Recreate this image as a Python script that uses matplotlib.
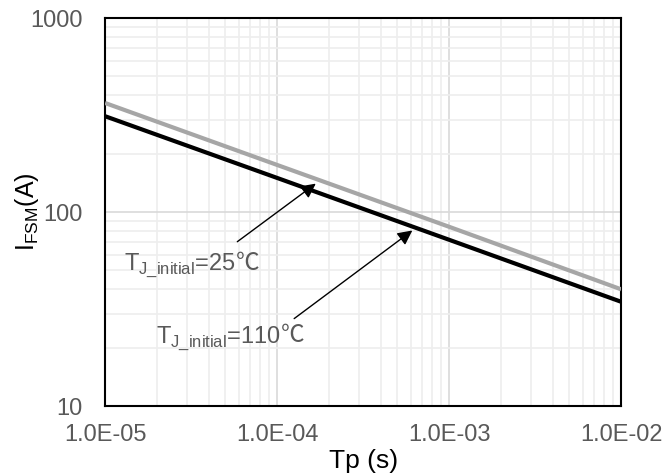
import matplotlib
matplotlib.use("Agg")
import matplotlib.pyplot as plt
from matplotlib.ticker import LogLocator, FixedLocator, NullFormatter

plt.rcParams['font.family'] = ['Liberation Sans', 'DejaVu Sans']
plt.rcParams['mathtext.fontset'] = 'custom'
plt.rcParams['mathtext.rm'] = 'Liberation Sans'

# data
tp = [1e-5, 1e-4, 1e-3, 1e-2]
ifsm_25 = [365, 175, 84, 40]
ifsm_110 = [312, 150, 72, 34.5]
xticks = [1e-5, 1e-4, 1e-3, 1e-2]
xticklabels = ['1.0E-05', '1.0E-04', '1.0E-03', '1.0E-02']
yticks = [10, 100, 1000]
yticklabels = ['10', '100', '1000']

fig = plt.figure(figsize=(6.65, 4.75), dpi=100)
ax = fig.add_axes([0.158, 0.145, 0.776, 0.817])

ax.plot(tp, ifsm_25, color='#a6a6a6', lw=3, solid_capstyle='butt', zorder=3)
ax.plot(tp, ifsm_110, color='black', lw=3, solid_capstyle='butt', zorder=3)

ax.set_xscale('log')
ax.set_yscale('log')
ax.set_xlim(1e-5, 1e-2)
ax.set_ylim(10, 1000)

ax.xaxis.set_major_locator(FixedLocator(xticks))
ax.set_xticklabels(xticklabels)
ax.yaxis.set_major_locator(FixedLocator(yticks))
ax.set_yticklabels(yticklabels)
ax.xaxis.set_minor_locator(LogLocator(base=10, subs=range(2, 10)))
ax.yaxis.set_minor_locator(LogLocator(base=10, subs=range(2, 10)))
ax.xaxis.set_minor_formatter(NullFormatter())
ax.yaxis.set_minor_formatter(NullFormatter())

ax.grid(which='major', color='#d9d9d9', lw=1.2)
ax.grid(which='minor', color='#eeeeee', lw=1.2)
ax.set_axisbelow(True)

ax.tick_params(which='both', length=0, labelsize=17, labelcolor='#595959')
ax.tick_params(axis='x', pad=13)
ax.tick_params(axis='y', pad=16)
for s in ax.spines.values():
    s.set_linewidth(1.5)
    s.set_color('black')

ax.set_xlabel('Tp (s)', fontsize=19, labelpad=2)
ax.set_ylabel(r'I$_{\rm FSM}$(A)', fontsize=18, labelpad=-8)

arrow = dict(arrowstyle='-|>', color='black', lw=1, mutation_scale=22)
ax.annotate('', xy=(1.73e-4, 143), xytext=(5.7e-5, 69), arrowprops=arrow)
ax.annotate('', xy=(6.3e-4, 82), xytext=(1.22e-4, 27.7), arrowprops=arrow)

# labels: T with subscript via mathtext, the degree sign as plain text after it
labels = [(0.037, 0.352, r'T$_{\rm J\_initial}$=25'),
          (0.099, 0.164, r'T$_{\rm J\_initial}$=110')]
fig.canvas.draw()
renderer = fig.canvas.get_renderer()
for x, y, s in labels:
    t = ax.text(x, y, s, transform=ax.transAxes, fontsize=17,
                color='#595959', va='baseline', ha='left')
    bb = t.get_window_extent(renderer)
    x1 = ax.transAxes.inverted().transform((bb.x1, 0))[0]
    ax.text(x1, y, '℃', transform=ax.transAxes, fontsize=17,
            color='#595959', va='baseline', ha='left',
            family=['Noto Sans CJK SC', 'DejaVu Sans'])

fig.savefig('out.png', dpi=100)
